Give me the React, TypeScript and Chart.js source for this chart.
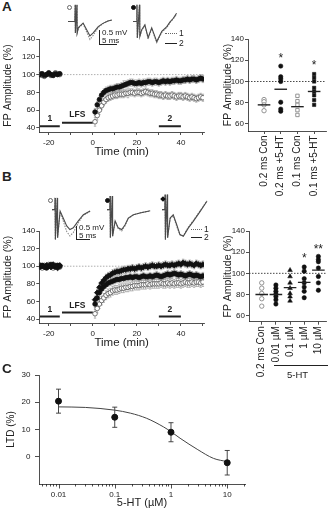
import React, { useEffect, useRef } from 'react';
import { Chart, registerables } from 'chart.js';

Chart.register(...registerables);

const FONT = '"Liberation Sans", Arial, Helvetica, sans-serif';
const INK = '#222';
Chart.defaults.font.family = FONT;
Chart.defaults.color = INK;

// ---------- time courses (A, B): minutes relative to LFS ----------
const tcTimes = [
  -24, -23, -22, -21, -20, -19, -18, -17, -16, -15,
  1, 2, 3, 4, 5, 6, 7, 8, 9, 10,
  11, 12, 13, 14, 15, 16, 17, 18, 19, 20,
  21, 22, 23, 24, 25, 26, 27, 28, 29, 30,
  31, 32, 33, 34, 35, 36, 37, 38, 39, 40,
  41, 42, 43, 44, 45, 46, 47, 48, 49, 50,
];
const tcTickVals = [-20, -10, 0, 10, 20, 30, 40, 50];
const tcTickLabels = ['-20', '', '0', '', '20', '', '40', ''];
const ampTickVals = [40, 60, 80, 100, 120, 140];
const scatTickVals = [60, 80, 100, 120, 140];

// epochs: baseline (1), LFS, post (2)
const epochStart = [-24, -14, 30];
const epochEnd = [-15, 0, 40];
const epochNames = ['1', 'LFS', '2'];

// A: 0.2 ms control (open) and +5-HT (filled), FP amplitude %
const aCon = [
  101, 99, 98, 100, 101, 99, 100, 102, 101, 100,
  47, 54, 60, 65, 69, 72, 74, 75, 76, 77,
  77, 78, 78, 78, 79, 79, 80, 80, 79, 80,
  80, 79, 80, 81, 80, 79, 79, 78, 78, 77,
  77, 76, 77, 76, 76, 77, 76, 75, 76, 76,
  75, 76, 75, 74, 75, 74, 73, 74, 75, 74,
];
const aConErr = [
  2, 2, 2, 2, 2, 2, 2, 2, 2, 2,
  5, 5, 5, 4, 4, 4, 4, 4, 4, 4,
  4, 4, 4, 4, 4, 5, 4, 4, 4, 4,
  4, 4, 4, 4, 4, 4, 4, 4, 4, 4,
  4, 4, 4, 4, 4, 4, 4, 4, 4, 4,
  4, 4, 4, 4, 4, 4, 4, 4, 4, 4,
];
const aHt = [
  100, 101, 99, 100, 102, 100, 99, 101, 100, 101,
  58, 66, 72, 77, 80, 82, 83, 84, 84, 85,
  86, 86, 87, 88, 89, 90, 91, 91, 90, 90,
  91, 90, 91, 91, 92, 92, 91, 92, 92, 91,
  92, 93, 92, 93, 92, 93, 93, 94, 93, 93,
  94, 94, 95, 94, 95, 95, 94, 95, 96, 95,
];
const aHtErr = [
  2, 2, 2, 2, 2, 2, 2, 2, 2, 2,
  4, 4, 4, 4, 4, 4, 4, 4, 4, 4,
  4, 4, 4, 5, 4, 4, 4, 4, 4, 4,
  4, 4, 4, 4, 4, 4, 4, 4, 4, 4,
  4, 4, 4, 4, 4, 4, 4, 4, 4, 4,
  4, 4, 4, 4, 4, 4, 4, 4, 4, 4,
];

// B: control (open), lower dose (filled circle), higher dose (diamond)
const bCon = [
  100, 98, 101, 99, 102, 100, 98, 101, 100, 99,
  46, 52, 57, 61, 64, 67, 69, 70, 72, 73,
  73, 74, 75, 75, 76, 76, 77, 77, 78, 78,
  78, 79, 79, 79, 80, 79, 80, 80, 80, 80,
  81, 80, 80, 81, 80, 81, 80, 81, 81, 80,
  81, 82, 81, 81, 82, 81, 82, 82, 81, 82,
];
const bConErr = [
  2, 2, 2, 2, 2, 2, 2, 2, 2, 2,
  5, 5, 5, 5, 5, 5, 5, 5, 5, 5,
  5, 5, 5, 5, 5, 5, 5, 5, 5, 5,
  5, 5, 5, 5, 5, 5, 5, 5, 5, 5,
  5, 5, 5, 5, 5, 5, 5, 5, 5, 5,
  5, 5, 5, 5, 5, 5, 5, 5, 5, 5,
];
const bMid = [
  99, 101, 100, 98, 100, 102, 100, 99, 101, 100,
  57, 64, 70, 74, 77, 79, 81, 82, 83, 84,
  85, 85, 86, 86, 87, 87, 88, 87, 88, 88,
  87, 88, 89, 88, 88, 89, 88, 89, 90, 89,
  88, 89, 90, 91, 90, 91, 92, 91, 90, 91,
  90, 89, 90, 91, 90, 89, 90, 89, 88, 89,
];
const bMidErr = [
  2, 2, 2, 2, 2, 2, 2, 2, 2, 2,
  4, 4, 4, 4, 4, 4, 4, 4, 4, 4,
  4, 4, 4, 4, 4, 4, 4, 4, 4, 4,
  4, 4, 4, 4, 4, 4, 4, 4, 4, 4,
  4, 4, 4, 4, 4, 4, 4, 4, 4, 4,
  4, 4, 4, 4, 4, 4, 4, 4, 4, 4,
];
const bHigh = [
  101, 100, 99, 101, 100, 99, 102, 100, 98, 101,
  62, 70, 76, 81, 84, 87, 89, 90, 92, 93,
  94, 94, 95, 96, 96, 97, 97, 98, 97, 98,
  99, 98, 99, 100, 99, 100, 101, 100, 100, 101,
  100, 101, 102, 101, 101, 102, 101, 102, 103, 102,
  104, 103, 102, 103, 102, 101, 103, 102, 101, 102,
];
const bHighErr = [
  2, 2, 2, 2, 2, 2, 2, 2, 2, 2,
  4, 4, 4, 4, 4, 4, 4, 4, 4, 4,
  4, 4, 4, 4, 4, 4, 4, 4, 4, 4,
  4, 4, 4, 4, 4, 4, 4, 4, 4, 4,
  4, 4, 4, 4, 4, 4, 4, 4, 4, 4,
  4, 4, 4, 4, 4, 4, 4, 4, 4, 4,
];

// ---------- per-slice summaries ----------
const aCats = ['0.2 ms Con', '0.2 ms +5-HT', '0.1 ms Con', '0.1 ms +5-HT'];
const aScat = [
  [83, 81, 78, 72.5],
  [114.5, 104.5, 102.5, 100, 80.5, 74, 72],
  [86.5, 81.5, 78, 73, 68.5],
  [107, 103.5, 100, 94, 90.5, 87, 82.5, 78],
];
const aMeans = [78, 92.7, 76.3, 90.6];
const aSig = ['', '*', '', '*'];
const aSigY = [0, 125, 0, 118];

const bCats = ['0.2 ms Con', '0.01 \u00b5M', '0.1 \u00b5M', '1 \u00b5M', '10 \u00b5M'];
const bScat = [
  [91, 86, 81, 76, 69],
  [89, 86, 83, 80.5, 78, 75, 71],
  [103, 97, 91, 86, 81, 78, 74],
  [106, 102, 95, 91, 87, 83, 77],
  [116, 113, 111, 105, 97, 91, 84],
];
const bMeans = [80, 80, 86.5, 91.5, 103];
const bSig = ['', '', '', '*', '**'];
const bSigY = [0, 0, 0, 117, 126];

// ---------- C: dose-response ----------
const cConc = [0.01, 0.1, 1, 10];
const cLtd = [20.4, 14.5, 9.0, -2.2];
const cErr = [4.4, 3.7, 3.5, 4.5];
const cFitX = [0.01, 0.03, 0.1, 0.19, 0.37, 0.73, 1.0, 1.45, 3.0, 5.7, 10];
const cFitY = [18.3, 18.1, 17.1, 16.0, 14.1, 11.0, 9.2, 6.8, 2.6, -0.6, -1.8];
const cTickVals = [
  0.005, 0.006, 0.007, 0.008, 0.009,
  0.01, 0.02, 0.03, 0.04, 0.05, 0.06, 0.07, 0.08, 0.09,
  0.1, 0.2, 0.3, 0.4, 0.5, 0.6, 0.7, 0.8, 0.9,
  1, 2, 3, 4, 5, 6, 7, 8, 9,
  10, 20,
];
const cMajorVals = [0.01, 0.1, 1, 10];
const cMajorLabels = ['0.01', '0.1', '1', '10'];
const ltdTickVals = [0, 10, 20, 30];

// ---------- example field potentials (ms, mV); 1 = before, 2 = after LFS ----------
const a1T = [0, 1.9, 2.0, 2.05, 2.5, 2.55, 2.9, 3.3, 4.2, 5.3, 6.1, 7.0, 8.4, 9.7, 11.1, 12.2];
const a1V1 = [0, 0, 0.56, -0.38, 0.56, -0.38, -0.22, -0.17, -0.08, -0.38, -0.6, -0.46, -0.2, -0.07, 0.02, 0.05];
const a1V2 = [0, 0, 0.56, -0.38, 0.56, -0.38, -0.2, -0.15, -0.05, -0.3, -0.48, -0.38, -0.17, -0.06, 0.02, 0.05];
const a2T = [0, 1.0, 1.1, 1.2, 1.8, 1.9, 2.4, 3.3, 4.2, 5.2, 6.6, 8.0, 9.4, 10.3, 11.2, 12.1];
const a2V1 = [0, 0, 0.56, -0.55, 0.56, -0.5, -0.3, -0.13, -0.58, -0.24, -0.7, -0.36, -0.2, -0.03, 0.09, 0.24];
const a2V2 = [0, 0, 0.56, -0.55, 0.56, -0.5, -0.28, -0.11, -0.54, -0.21, -0.67, -0.33, -0.17, -0.01, 0.11, 0.28];
const b1T = [0, 1.0, 1.1, 1.2, 1.9, 2.0, 2.9, 4.0, 5.25, 6.4, 7.6, 9.4, 11.2, 13.6];
const b1V1 = [0, 0, 0.42, -1.07, 0.42, -1.0, -0.08, -0.4, -0.78, -0.94, -0.82, -0.47, -0.2, -0.06];
const b1V2 = [0, 0, 0.42, -1.07, 0.42, -1.0, -0.05, -0.3, -0.58, -0.71, -0.65, -0.4, -0.18, -0.05];
const b2T = [0, 1.0, 1.1, 1.2, 1.9, 2.0, 2.9, 4.0, 5.25, 6.4, 7.6, 9.4, 11.8, 15.4];
const b2V1 = [0, 0, 0.49, -1.0, 0.49, -0.95, -0.42, -0.68, -0.76, -0.58, -0.32, -0.19, -0.11, -0.05];
const b2V2 = [0, 0, 0.49, -1.0, 0.49, -0.95, -0.4, -0.65, -0.71, -0.55, -0.3, -0.18, -0.12, -0.04];
const b3T = [0, 1.0, 1.1, 1.2, 1.9, 2.0, 2.9, 4.0, 5.25, 6.4, 7.6, 9.4, 11.2, 13.6, 16.0];
const b3V1 = [0, 0, 0.54, -1.07, 0.54, -1.0, -0.32, -0.22, -0.6, -0.9, -0.93, -0.62, -0.38, -0.04, 0.32];
const b3V2 = [0, 0, 0.54, -1.07, 0.54, -1.0, -0.3, -0.18, -0.54, -0.89, -0.95, -0.65, -0.41, -0.06, 0.3];

// ---------- shared styling ----------
const tickFont = { size: 8, family: FONT };
const catFont = { size: 10, family: FONT };
const ampTitleFont = { size: 10.5, family: FONT };

const openPt = { pointStyle: 'circle', pointRadius: 2.3, pointBackgroundColor: '#fff', pointBorderColor: '#555', pointBorderWidth: 0.8 };
const filledPt = { pointStyle: 'circle', pointRadius: 2.3, pointBackgroundColor: '#111', pointBorderColor: '#111', pointBorderWidth: 0.8 };
const diamondPt = { pointStyle: 'rectRot', pointRadius: 2.8, pointBackgroundColor: '#111', pointBorderColor: '#111', pointBorderWidth: 0.8 };

const scatOpenCircle = { pointStyle: 'circle', pointRadius: 2.2, pointBackgroundColor: '#fff', pointBorderColor: '#888', pointBorderWidth: 0.9 };
const scatFilledCircle = { pointStyle: 'circle', pointRadius: 2.2, pointBackgroundColor: '#111', pointBorderColor: '#111', pointBorderWidth: 0.5 };
const scatOpenSquare = { pointStyle: 'rect', pointRadius: 2.4, pointBackgroundColor: '#fff', pointBorderColor: '#888', pointBorderWidth: 0.9 };
const scatFilledSquare = { pointStyle: 'rect', pointRadius: 2.4, pointBackgroundColor: '#111', pointBorderColor: '#111', pointBorderWidth: 0.5 };
const scatTriangle = { pointStyle: 'triangle', pointRadius: 2.7, pointBackgroundColor: '#111', pointBorderColor: '#111', pointBorderWidth: 0.5 };

const fixTicks = (vals: number[]) => (scale: any) => {
  scale.ticks = vals.map((v) => ({ value: v }));
};
const fitW = (w: number) => (scale: any) => {
  scale.width = w;
};
const fitH = (h: number) => (scale: any) => {
  scale.height = h;
};
const axisLines = (tickLength: number) => ({
  grid: { display: true, drawOnChartArea: false, drawTicks: true, tickLength, color: INK, lineWidth: 0.8 },
  border: { display: true, color: INK, width: 0.8 },
});

// vertical error bars from each dataset's `errs`
const errorBars = {
  id: 'errorBars',
  beforeDatasetsDraw(chart: any) {
    const { ctx } = chart;
    chart.data.datasets.forEach((ds: any, i: number) => {
      if (!ds.errs) return;
      const meta = chart.getDatasetMeta(i);
      const ys = chart.scales[meta.yAxisID];
      ctx.save();
      ctx.strokeStyle = ds.errColor;
      ctx.lineWidth = ds.errWidth;
      ctx.beginPath();
      meta.data.forEach((el: any, j: number) => {
        const e = ds.errs[j];
        if (!e) return;
        const v = ds.data[j].y;
        const top = ys.getPixelForValue(v + e);
        const bot = ys.getPixelForValue(v - e);
        const c = ds.errCap;
        ctx.moveTo(el.x, top);
        ctx.lineTo(el.x, bot);
        ctx.moveTo(el.x - c, top);
        ctx.lineTo(el.x + c, top);
        ctx.moveTo(el.x - c, bot);
        ctx.lineTo(el.x + c, bot);
      });
      ctx.stroke();
      ctx.restore();
    });
  },
};

type HLine = { y: number; x0?: number; x1?: number; color: string; dash: number[]; width: number };
type Note = { x: number; y: number; text: string; size: number; bold?: boolean };

// reference lines and in-plot text, placed in data coordinates
function makeNotes(hlines: HLine[], texts: Note[]) {
  return {
    id: 'notes',
    beforeDatasetsDraw(chart: any) {
      const { ctx, chartArea } = chart;
      const xs = chart.scales.x;
      const ys = chart.scales.y;
      hlines.forEach((h) => {
        const y = ys.getPixelForValue(h.y);
        const xa = h.x0 == null ? chartArea.left : xs.getPixelForValue(h.x0);
        const xb = h.x1 == null ? chartArea.right : xs.getPixelForValue(h.x1);
        ctx.save();
        ctx.strokeStyle = h.color;
        ctx.lineWidth = h.width;
        ctx.setLineDash(h.dash);
        ctx.beginPath();
        ctx.moveTo(xa, y);
        ctx.lineTo(xb, y);
        ctx.stroke();
        ctx.restore();
      });
    },
    afterDatasetsDraw(chart: any) {
      const { ctx } = chart;
      const xs = chart.scales.x;
      const ys = chart.scales.y;
      texts.forEach((t) => {
        if (!t.text) return;
        const x = xs.getPixelForValue(t.x);
        const y = ys.getPixelForValue(t.y);
        ctx.save();
        ctx.fillStyle = INK;
        ctx.font = `${t.bold ? 'bold ' : ''}${t.size}px ${FONT}`;
        ctx.textAlign = 'center';
        if (t.text.indexOf('*') >= 0) {
          ctx.textBaseline = 'alphabetic';
          ctx.fillText(t.text, x, y + t.size * 0.57);
        } else {
          ctx.textBaseline = 'middle';
          ctx.fillText(t.text, x, y);
        }
        ctx.restore();
      });
    },
  };
}

// log-axis tick marks: longer at decades
const logTickMarks = {
  id: 'logTickMarks',
  afterDraw(chart: any) {
    const { ctx, chartArea } = chart;
    const xs = chart.scales.x;
    ctx.save();
    ctx.strokeStyle = INK;
    ctx.lineWidth = 0.8;
    ctx.beginPath();
    xs.ticks.forEach((t: any) => {
      const x = Math.round(xs.getPixelForValue(t.value)) + 0.5;
      const len = cMajorVals.indexOf(t.value) >= 0 ? 4.5 : 2.5;
      ctx.moveTo(x, chartArea.bottom);
      ctx.lineTo(x, chartArea.bottom + len);
    });
    ctx.stroke();
    ctx.restore();
  },
};

const baseOptions = (padding: any) => ({
  responsive: false,
  animation: false,
  devicePixelRatio: 1,
  layout: { padding },
  plugins: { legend: { display: false }, tooltip: { enabled: false } },
});

function pointSet(xs: number[], ys: number[], errs: number[] | null, style: any) {
  return {
    data: xs.map((x, i) => ({ x, y: ys[i] })),
    showLine: false,
    errs,
    errColor: '#8a8a8a',
    errWidth: 0.6,
    errCap: 1.2,
    ...style,
  };
}

function epochSets(levels: number[]) {
  return epochStart.map((s, i) => ({
    data: [
      { x: s, y: levels[i] },
      { x: epochEnd[i], y: levels[i] },
    ],
    showLine: true,
    pointRadius: 0,
    borderColor: INK,
    borderWidth: 2,
  }));
}

function timeCourseConfig(series: any[], barLevels: number[], labelLevels: number[], titlePad: number) {
  const texts = epochNames.map((name, i) => ({
    x: (epochStart[i] + epochEnd[i]) / 2,
    y: labelLevels[i],
    text: name,
    size: 8.5,
    bold: true,
  }));
  return {
    type: 'scatter',
    data: { datasets: [...series, ...epochSets(barLevels)] },
    options: {
      ...baseOptions({ left: 0, top: 11, right: 10, bottom: 0 }),
      scales: {
        x: {
          type: 'linear',
          min: -24.3,
          max: 50.5,
          afterBuildTicks: fixTicks(tcTickVals),
          afterFit: fitH(30),
          ...axisLines(3),
          ticks: { font: tickFont, color: INK, padding: 2.5, autoSkip: false, maxRotation: 0, callback: (_v: any, i: number) => tcTickLabels[i] },
          title: { display: true, text: 'Time (min)', font: { size: 11.5, family: FONT }, color: INK, padding: { top: 0, bottom: titlePad } },
        },
        y: {
          type: 'linear',
          min: 35.5,
          max: 140,
          afterBuildTicks: fixTicks(ampTickVals),
          afterFit: fitW(39.3),
          ...axisLines(3),
          ticks: { font: tickFont, color: INK, padding: 1 },
          title: { display: true, text: 'FP Amplitude (%)', font: ampTitleFont, color: INK, padding: { top: 1.7, bottom: 0 } },
        },
      },
    },
    plugins: [
      errorBars,
      makeNotes([{ y: 100, x0: -24, x1: 50.5, color: '#9a9a9a', dash: [1.5, 1.5], width: 0.8 }], texts),
    ],
  };
}

const timeCourseA = () =>
  timeCourseConfig(
    [pointSet(tcTimes, aHt, aHtErr, filledPt), pointSet(tcTimes, aCon, aConErr, openPt)],
    [42, 46, 42],
    [51, 54.5, 51],
    3.1,
  );

const timeCourseB = () =>
  timeCourseConfig(
    [
      pointSet(tcTimes, bHigh, bHighErr, diamondPt),
      pointSet(tcTimes, bMid, bMidErr, filledPt),
      pointSet(tcTimes, bCon, bConErr, openPt),
    ],
    [43, 47.5, 43],
    [50.5, 55.5, 50.5],
    2.8,
  );

function scatterConfig(
  cats: string[],
  vals: number[][],
  means: number[],
  styles: any[],
  sig: string[],
  sigY: number[],
  xMin: number,
  xMax: number,
  yMin: number,
  xAxisH: number,
  padRight: number,
  yAxisW: number,
) {
  const groups = vals.map((v, i) =>
    pointSet(
      v.map(() => i + 1),
      v,
      null,
      styles[i],
    ),
  );
  const meanSet = {
    data: means.map((m, i) => ({ x: i + 1, y: m })),
    showLine: false,
    pointStyle: 'line',
    pointRadius: 6.3,
    pointBorderColor: INK,
    pointBorderWidth: 1.4,
  };
  const catTicks = cats.map((_c, i) => i + 1);
  return {
    type: 'scatter',
    data: { datasets: [meanSet, ...groups] },
    options: {
      ...baseOptions({ left: 0, top: 11, right: padRight, bottom: 0 }),
      scales: {
        x: {
          type: 'linear',
          min: xMin,
          max: xMax,
          afterBuildTicks: fixTicks(catTicks),
          afterFit: fitH(xAxisH),
          ...axisLines(3),
          ticks: {
            font: catFont,
            color: INK,
            padding: 1.5,
            autoSkip: false,
            minRotation: 90,
            maxRotation: 90,
            callback: (_v: any, i: number) => cats[i],
          },
        },
        y: {
          type: 'linear',
          min: yMin,
          max: 140,
          afterBuildTicks: fixTicks(scatTickVals),
          afterFit: fitW(yAxisW),
          ...axisLines(3),
          ticks: { font: tickFont, color: INK, padding: 1 },
          title: { display: true, text: 'FP Amplitude (%)', font: ampTitleFont, color: INK, padding: { top: 5.7, bottom: 0 } },
        },
      },
    },
    plugins: [
      makeNotes(
        [{ y: 100, color: '#333', dash: [1.5, 1.5], width: 0.9 }],
        sig.map((s, i) => ({ x: i + 1, y: sigY[i], text: s, size: 12 })),
      ),
    ],
  };
}

const scatterA = () =>
  scatterConfig(
    aCats,
    aScat,
    aMeans,
    [scatOpenCircle, scatFilledCircle, scatOpenSquare, scatFilledSquare],
    aSig,
    aSigY,
    0.04,
    4.71,
    53.4,
    67,
    8,
    32,
  );

const scatterB = () =>
  scatterConfig(
    bCats,
    bScat,
    bMeans,
    [scatOpenCircle, scatFilledCircle, scatTriangle, scatFilledCircle, scatFilledCircle],
    bSig,
    bSigY,
    0.1,
    5.56,
    54.3,
    63.3,
    2,
    33,
  );

const doseResponse = () => ({
  type: 'scatter',
  data: {
    datasets: [
      {
        data: cConc.map((x, i) => ({ x, y: cLtd[i] })),
        showLine: false,
        pointStyle: 'circle',
        pointRadius: 3,
        pointBackgroundColor: '#111',
        pointBorderColor: '#111',
        errs: cErr,
        errColor: '#333',
        errWidth: 0.9,
        errCap: 2.5,
      },
      {
        data: cFitX.map((x, i) => ({ x, y: cFitY[i] })),
        showLine: true,
        pointRadius: 0,
        borderColor: '#444',
        borderWidth: 1,
        cubicInterpolationMode: 'monotone',
      },
    ],
  },
  options: {
    ...baseOptions({ left: 0, top: 13, right: 15, bottom: 0 }),
    scales: {
      x: {
        type: 'logarithmic',
        min: 0.0045,
        max: 20.7,
        afterBuildTicks: fixTicks(cTickVals),
        afterFit: fitH(28),
        grid: { display: true, drawOnChartArea: false, drawTicks: false, color: INK },
        border: { display: true, color: INK, width: 0.8 },
        ticks: {
          font: tickFont,
          color: INK,
          padding: 5.5,
          autoSkip: false,
          maxRotation: 0,
          callback: (v: any) => {
            const k = cMajorVals.indexOf(Number(v));
            return k >= 0 ? cMajorLabels[k] : '';
          },
        },
        title: { display: true, text: '5-HT (\u00b5M)', font: { size: 11, family: FONT }, color: INK, padding: { top: 0, bottom: 2.1 } },
      },
      y: {
        type: 'linear',
        min: -10,
        max: 30,
        afterBuildTicks: fixTicks(ltdTickVals),
        afterFit: fitW(39),
        ...axisLines(4),
        ticks: { font: tickFont, color: INK, padding: 4.5 },
        title: { display: true, text: 'LTD (%)', font: { size: 10, family: FONT }, color: INK, padding: { top: 5.7, bottom: 0 } },
      },
    },
  },
  plugins: [errorBars, logTickMarks],
});

function traceConfig(t: number[], v1: number[], v2: number[], xMax: number, yMin: number, yMax: number) {
  return {
    type: 'scatter',
    data: {
      datasets: [
        { data: t.map((x, i) => ({ x, y: v2[i] })), showLine: true, pointRadius: 0, borderColor: '#4a4a4a', borderWidth: 1.1 },
        { data: t.map((x, i) => ({ x, y: v1[i] })), showLine: true, pointRadius: 0, borderColor: '#8a8a8a', borderWidth: 1.1, borderDash: [1.5, 1.2] },
      ],
    },
    options: {
      ...baseOptions(0),
      scales: {
        x: { type: 'linear', display: false, min: 0, max: xMax },
        y: { type: 'linear', display: false, min: yMin, max: yMax },
      },
    },
  };
}

// ---------- components ----------
type BoxProps = { left: number; top: number; width: number; height: number; make: () => any };

function ChartBox({ left, top, width, height, make }: BoxProps) {
  const ref = useRef<HTMLCanvasElement>(null);
  useEffect(() => {
    const chart = new Chart(ref.current as HTMLCanvasElement, make());
    return () => chart.destroy();
  }, []);
  return (
    <canvas
      ref={ref}
      width={width}
      height={height}
      style={{ position: 'absolute', left, top, width, height, display: 'block' }}
    />
  );
}

function Txt({ left, top, size, bold, children }: { left: number; top: number; size: number; bold?: boolean; children: any }) {
  return (
    <div
      style={{
        position: 'absolute',
        left,
        top,
        fontSize: size,
        lineHeight: `${size}px`,
        fontWeight: bold ? 'bold' : 'normal',
        whiteSpace: 'nowrap',
        fontFamily: FONT,
        color: INK,
      }}
    >
      {children}
    </div>
  );
}

function Rule({ left, top, width, height, dotted }: { left: number; top: number; width: number; height: number; dotted?: boolean }) {
  if (dotted) {
    return <div style={{ position: 'absolute', left, top, width, height: 0, borderTop: '1px dotted #666' }} />;
  }
  return <div style={{ position: 'absolute', left, top, width, height, background: INK }} />;
}

function Marker({ cx, cy, kind }: { cx: number; cy: number; kind: 'open' | 'filled' | 'diamond' }) {
  if (kind === 'diamond') {
    return (
      <div
        style={{ position: 'absolute', left: cx - 2, top: cy - 2, width: 4, height: 4, background: '#111', transform: 'rotate(45deg)' }}
      />
    );
  }
  return (
    <div
      style={{
        position: 'absolute',
        left: cx - 2.5,
        top: cy - 2.5,
        width: 5,
        height: 5,
        boxSizing: 'border-box',
        borderRadius: '50%',
        border: kind === 'open' ? '0.8px solid #666' : '1px solid #111',
        background: kind === 'open' ? '#fff' : '#111',
      }}
    />
  );
}

export default function App() {
  return (
    <div
      style={{
        position: 'fixed',
        left: 0,
        top: 0,
        width: 334,
        height: 512,
        background: '#fff',
        overflow: 'hidden',
        fontFamily: FONT,
      }}
    >
      {/* panel A */}
      <Txt left={2} top={0} size={13.5} bold>A</Txt>
      <ChartBox left={0} top={28} width={214} height={134} make={timeCourseA} />
      <ChartBox left={216} top={28} width={118} height={170} make={scatterA} />
      <ChartBox left={68} top={3} width={46} height={44} make={() => traceConfig(a1T, a1V1, a1V2, 12.78, -0.85, 0.62)} />
      <ChartBox left={133} top={3} width={46} height={44} make={() => traceConfig(a2T, a2V1, a2V2, 12.78, -0.85, 0.62)} />
      <Marker cx={69} cy={7} kind="open" />
      <Marker cx={133} cy={7} kind="filled" />
      <Rule left={99} top={30} width={1} height={15} />
      <Rule left={99} top={44} width={18} height={1} />
      <Txt left={102} top={28.5} size={8}>0.5 mV</Txt>
      <Txt left={102} top={36.5} size={8}>5 ms</Txt>
      <Rule left={165} top={33} width={12} height={1} dotted />
      <Txt left={179} top={29} size={8.5}>1</Txt>
      <Rule left={165} top={43} width={12} height={1} />
      <Txt left={179} top={39} size={8.5}>2</Txt>

      {/* panel B */}
      <Txt left={2} top={170} size={13.5} bold>B</Txt>
      <ChartBox left={0} top={220} width={214} height={133} make={timeCourseB} />
      <ChartBox left={216} top={220} width={118} height={165} make={scatterB} />
      <ChartBox left={52} top={192} width={42} height={50} make={() => traceConfig(b1T, b1V1, b1V2, 15, -1.155, 0.63)} />
      <ChartBox left={107} top={192} width={46} height={50} make={() => traceConfig(b2T, b2V1, b2V2, 16.4, -1.155, 0.63)} />
      <ChartBox left={162} top={192} width={48} height={50} make={() => traceConfig(b3T, b3V1, b3V2, 17.1, -1.155, 0.63)} />
      <Marker cx={50} cy={200} kind="open" />
      <Marker cx={107} cy={200} kind="filled" />
      <Marker cx={163} cy={199} kind="diamond" />
      <Rule left={76} top={226} width={1} height={14} />
      <Rule left={76} top={239} width={14} height={1} />
      <Txt left={79} top={223.5} size={8}>0.5 mV</Txt>
      <Txt left={79} top={231.5} size={8}>5 ms</Txt>
      <Rule left={191} top={229} width={11} height={1} dotted />
      <Txt left={204} top={225} size={8.5}>1</Txt>
      <Rule left={191} top={237} width={11} height={1} />
      <Txt left={204} top={233} size={8.5}>2</Txt>
      <Rule left={274} top={365} width={54} height={1.2} />
      <Txt left={287} top={370} size={9.5}>5-HT</Txt>

      {/* panel C */}
      <Txt left={2} top={362} size={13.5} bold>C</Txt>
      <ChartBox left={0} top={362} width={260} height={150} make={doseResponse} />
    </div>
  );
}
